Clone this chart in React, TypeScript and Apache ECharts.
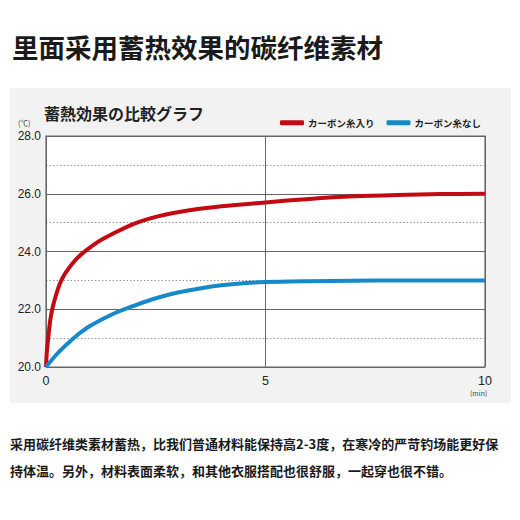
import React, { useEffect, useRef } from "react";
import * as echarts from "echarts";

const pageTitle = "里面采用蓄热效果的碳纤维素材";
const chartTitle = "蓄熱効果の比較グラフ";
const seriesNames = ["カーボン糸入り", "カーボン糸なし"];
const descLines = [
  "采用碳纤维类素材蓄热，比我们普通材料能保持高2-3度，在寒冷的严苛钓场能更好保",
  "持体温。另外，材料表面柔软，和其他衣服搭配也很舒服，一起穿也很不错。",
];

const carbonTime = [0, 0.02, 0.05, 0.1, 0.15, 0.22, 0.32, 0.42, 0.5, 0.7, 0.9, 1.2, 1.5, 2, 2.5, 3, 3.5, 4, 5, 6, 7, 8, 9, 10];
const carbonTemp = [20, 20.55, 21.0, 21.65, 22.05, 22.45, 22.9, 23.2, 23.38, 23.75, 24.02, 24.35, 24.6, 24.96, 25.2, 25.36, 25.48, 25.57, 25.7, 25.82, 25.91, 25.96, 25.99, 26.0];

const plainTime = [0, 0.25, 0.5, 0.75, 1, 1.5, 2, 2.5, 3, 3.5, 4, 4.5, 5, 6, 7, 8, 10];
const plainTemp = [20, 20.45, 20.82, 21.15, 21.42, 21.82, 22.12, 22.38, 22.58, 22.72, 22.83, 22.9, 22.94, 22.97, 22.99, 23.0, 23.0];

const colors = ["#c20a12", "#1589c9"];

export default function App() {
  const ref = useRef<HTMLDivElement>(null);
  useEffect(() => {
    if (!ref.current) return;
    const chart = echarts.init(ref.current, null, { renderer: "svg" });
    const font = "'Noto Sans CJK SC', 'Noto Sans', sans-serif";
    const jpFont = "'Noto Sans CJK JP', 'Noto Sans', sans-serif";
    chart.setOption({
      animation: false,
      backgroundColor: "#ffffff",
      textStyle: { fontFamily: font },
      graphic: [
        {
          type: "rect",
          z: -10,
          silent: true,
          shape: { x: 10, y: 88, width: 501, height: 315 },
          style: { fill: "#f2f2f2" },
        },
        {
          type: "text",
          left: 12,
          top: 33,
          style: { text: pageTitle, font: `bold 26.5px ${font}`, fill: "#1a1a1a" },
        },
        {
          type: "text",
          left: 44,
          top: 105,
          style: { text: chartTitle, font: `bold 16px ${jpFont}`, fill: "#222" },
        },
        {
          type: "text",
          left: 18,
          top: 119,
          style: { text: "(℃)", font: `7.5px ${font}`, fill: "#444" },
        },
        {
          type: "text",
          left: 470,
          top: 389,
          style: { text: "(min)", font: `7px ${font}`, fill: "#444" },
        },
        {
          type: "text",
          left: 10,
          top: 437,
          style: { text: descLines[0], font: `bold 13px ${font}`, fill: "#1a1a1a" },
        },
        {
          type: "text",
          left: 10,
          top: 464,
          style: { text: descLines[1], font: `bold 13px ${font}`, fill: "#1a1a1a" },
        },
      ],
      legend: {
        right: 34,
        top: 113,
        itemWidth: 24,
        itemHeight: 5,
        itemGap: 12,
        icon: "roundRect",
        textStyle: { fontFamily: jpFont, fontSize: 9.5, fontWeight: "bold", color: "#222", padding: [0, 0, 0, -1] },
        data: seriesNames,
      },
      grid: {
        left: 46,
        right: 35,
        top: 136,
        bottom: 153,
        show: true,
        backgroundColor: "#ffffff",
        borderColor: "#666",
        borderWidth: 1.2,
      },
      xAxis: {
        type: "value",
        min: 0,
        max: 10,
        interval: 5,
        axisLine: { show: false },
        axisTick: { show: false },
        axisLabel: { fontSize: 12.5, color: "#222", margin: 7, fontFamily: "'Liberation Sans', Arial, sans-serif" },
        splitLine: { show: true, lineStyle: { color: "#666", width: 1 } },
      },
      yAxis: {
        type: "value",
        min: 20,
        max: 28,
        interval: 2,
        axisLine: { show: false },
        axisTick: { show: false },
        axisLabel: {
          fontSize: 12,
          color: "#222",
          margin: 5,
          fontFamily: "'Liberation Sans', Arial, sans-serif",
          formatter: (v: number) => v.toFixed(1),
        },
        splitLine: { show: true, lineStyle: { color: "#666", width: 1 } },
        minorTick: { show: false, splitNumber: 2 },
        minorSplitLine: { show: true, lineStyle: { color: "#999", type: [1.5, 2], width: 1 } },
      },
      series: [
        {
          name: seriesNames[0],
          type: "line",
          smooth: 0.3,
          showSymbol: false,
          symbol: "none",
          lineStyle: { width: 4, color: colors[0] },
          itemStyle: { color: colors[0] },
          data: carbonTime.map((t, i) => [t, carbonTemp[i]]),
          z: 3,
        },
        {
          name: seriesNames[1],
          type: "line",
          smooth: 0.3,
          showSymbol: false,
          symbol: "none",
          lineStyle: { width: 4, color: colors[1] },
          itemStyle: { color: colors[1] },
          data: plainTime.map((t, i) => [t, plainTemp[i]]),
          z: 4,
        },
      ],
    });
    return () => chart.dispose();
  }, []);
  return (
    <div
      ref={ref}
      style={{ position: "fixed", left: 0, top: 0, width: 520, height: 520 }}
    />
  );
}
